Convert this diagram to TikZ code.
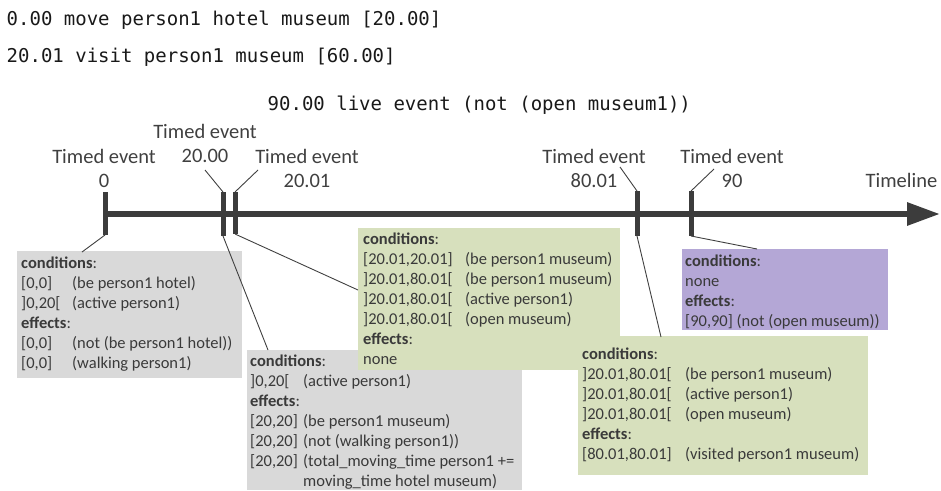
\documentclass[tikz,border=0pt]{standalone}
\usepackage{fontspec}
\setmainfont{Carlito}
\setmonofont{DejaVu Sans Mono}
\usetikzlibrary{arrows.meta}

\definecolor{axisgrey}{HTML}{3C3C3C}
\definecolor{labelgrey}{HTML}{404040}
\definecolor{boxtextgrey}{HTML}{3A3A3A}
\definecolor{greyfill}{HTML}{D9D9D9}
\definecolor{greenfill}{HTML}{D7E0BD}
\definecolor{purplefill}{HTML}{B4A7D6}

% first column of a box row, fixed width
\newcommand\ivl[2]{\makebox[#1][l]{#2}}
\newcommand\twoline[2]{\begin{tabular}[t]{@{}c@{}}#1\\#2\end{tabular}}

\begin{document}
\begin{tikzpicture}[x=1pt,y=-1pt,
  mono/.style={inner sep=0, anchor=base west, text=black!90, font=\ttfamily\fontsize{19}{22}\selectfont},
  evlabel/.style={inner sep=0, anchor=base, text=labelgrey, font=\fontsize{20.5}{24}\selectfont},
  infobox/.style={anchor=north west, inner sep=0, draw=none},
  boxtext/.style={inner sep=0, anchor=base west, text=boxtextgrey, font=\fontsize{16.5}{20}\selectfont},
  tick/.style={line width=5, draw=axisgrey},
  leader/.style={line width=0.9, draw=labelgrey},
]
\useasboundingbox (0,0) rectangle (941,490);

% plan printout
\node[mono] (plan1) at (6.5,25) {0.00 move person1 hotel museum [20.00]};
\node[mono] (plan2) at (6.5,62) {20.01 visit person1 museum [60.00]};
\node[mono] (plan3) at (267.5,110) {90.00 live event (not (open museum1))};

% timeline axis
\coordinate (axstart) at (103,214);
\coordinate (axend) at (940,214);
\draw[line width=6, draw=axisgrey, -{Triangle[length=33pt,width=22pt]}, color=axisgrey] (axstart) -- (axend);
\node[evlabel] (tline) at (901.5,187) {Timeline};

% event ticks
\coordinate (k0t) at (105,192);     \coordinate (k0b) at (105,235);
\coordinate (k20t) at (223,192);    \coordinate (k20b) at (223,236);
\coordinate (k2001t) at (235,192);  \coordinate (k2001b) at (235,234);
\coordinate (k8001t) at (637,191);  \coordinate (k8001b) at (637,236);
\coordinate (k90t) at (691,191);    \coordinate (k90b) at (691,236);
\draw[tick] (k0t) -- (k0b);
\draw[tick] (k20t) -- (k20b);
\draw[tick] (k2001t) -- (k2001b);
\draw[tick] (k8001t) -- (k8001b);
\draw[tick] (k90t) -- (k90b);

% event labels
\node[evlabel] (e0) at (104,163) {\twoline{Timed event}{0}};
\node[evlabel] (e20) at (205,138) {\twoline{Timed event}{20.00}};
\node[evlabel] (e2001) at (307,163) {\twoline{Timed event}{20.01}};
\node[evlabel] (e8001) at (594,163) {\twoline{Timed event}{80.01}};
\node[evlabel] (e90) at (732,163) {\twoline{Timed event}{90}};

% label leaders
\coordinate (le20) at (205,170);
\coordinate (le2001) at (258,170);
\coordinate (le8001) at (620,167);
\coordinate (le90) at (714,169);
\draw[leader] (le20) -- (k20t);
\draw[leader] (le2001) -- (k2001t);
\draw[leader] (le8001) -- (k8001t);
\draw[leader] (le90) -- (k90t);

% boxes (grey box of 20.00 lies under the first green box)
\node[infobox, fill=greyfill, minimum width=225, minimum height=127] (b0) at (17,251) {};
\node[infobox, fill=greyfill, minimum width=275, minimum height=140] (b20) at (247,350) {};
\node[infobox, fill=greenfill, minimum width=262, minimum height=142] (b2001) at (358,228) {};
\node[infobox, fill=greenfill, minimum width=290, minimum height=139] (b8001) at (578,336) {};
\node[infobox, fill=purplefill, minimum width=206, minimum height=81] (b90) at (682,249) {};

% tick to box connectors
\coordinate (c0) at (82,252);
\coordinate (c20) at (268,350);
\coordinate (c2001) at (358,290);
\coordinate (c8001) at (661,337);
\coordinate (c90) at (757,249);
\draw[leader] (k0b) -- (c0);
\draw[leader] (k20b) -- (c20);
\draw[leader] (k2001b) -- (c2001);
\draw[leader] (k8001b) -- (c8001);
\draw[leader] (k90b) -- (c90);

% box texts
\node[boxtext] (t0) at (21,268) {\begin{tabular}[t]{@{}l@{}}
\textbf{conditions}:\\
\ivl{51pt}{[0,0]}(be person1 hotel)\\
\ivl{51pt}{]0,20[}(active person1)\\
\textbf{effects}:\\
\ivl{51pt}{[0,0]}(not (be person1 hotel))\\
\ivl{51pt}{[0,0]}(walking person1)
\end{tabular}};

\node[boxtext] (t20) at (250,366.5) {\begin{tabular}[t]{@{}l@{}}
\textbf{conditions}:\\
\ivl{53pt}{]0,20[}(active person1)\\
\textbf{effects}:\\
\ivl{53pt}{[20,20]}(be person1 museum)\\
\ivl{53pt}{[20,20]}(not (walking person1))\\
\ivl{53pt}{[20,20]}(total\_moving\_time person1 +=\\
\ivl{53pt}{}moving\_time hotel museum)
\end{tabular}};

\node[boxtext] (t2001) at (363,244.5) {\begin{tabular}[t]{@{}l@{}}
\textbf{conditions}:\\
\ivl{102pt}{[20.01,20.01]}(be person1 museum)\\
\ivl{102pt}{]20.01,80.01[}(be person1 museum)\\
\ivl{102pt}{]20.01,80.01[}(active person1)\\
\ivl{102pt}{]20.01,80.01[}(open museum)\\
\textbf{effects}:\\
none
\end{tabular}};

\node[boxtext] (t8001) at (582,359.5) {\begin{tabular}[t]{@{}l@{}}
\textbf{conditions}:\\
\ivl{103pt}{]20.01,80.01[}(be person1 museum)\\
\ivl{103pt}{]20.01,80.01[}(active person1)\\
\ivl{103pt}{]20.01,80.01[}(open museum)\\
\textbf{effects}:\\
\ivl{103pt}{[80.01,80.01]}(visited person1 museum)
\end{tabular}};

\node[boxtext] (t90) at (685,266.5) {\begin{tabular}[t]{@{}l@{}}
\textbf{conditions}:\\
none\\
\textbf{effects}:\\
{[90,90]} (not (open museum))
\end{tabular}};

\end{tikzpicture}
\end{document}
